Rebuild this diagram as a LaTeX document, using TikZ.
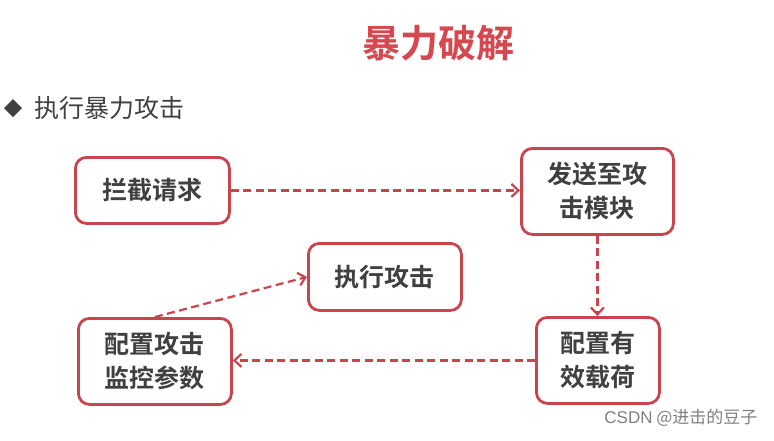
\documentclass[tikz,border=0pt]{standalone}
\usepackage{fontspec}
\newfontfamily\cjk{Noto Sans CJK SC}
\newfontfamily\cjkb{Noto Sans CJK SC Bold}
\newfontfamily\wmfont{Liberation Sans}
\usetikzlibrary{arrows.meta}
\definecolor{bred}{RGB}{201,69,78}
\definecolor{tred}{RGB}{214,72,80}
\definecolor{tgray}{RGB}{64,64,64}
\tikzset{
  box/.style={draw=bred, line width=2.8pt, rounded corners=11pt, fill=white,
    text=tgray, font=\cjkb\fontsize{25}{34}\selectfont, align=center,
    inner sep=0pt, anchor=north west},
  link/.style={draw=bred, line width=2.2pt, dash pattern=on 8pt off 4.5pt,
    -{Straight Barb[length=7pt,width=13pt,line width=2.2pt]}}
}
\begin{document}
\begin{tikzpicture}[x=1pt,y=-1pt]
\useasboundingbox (0,0) rectangle (774,440);
\fill[white] (0,0) rectangle (774,440);
\node[text=tred, font=\cjkb\fontsize{38}{44}\selectfont] (title) at (438,43) {暴力破解};
\fill[tgray] (13,99) -- (22,108) -- (13,117) -- (4,108) -- cycle;
\node[text=tgray, font=\cjk\fontsize{25}{30}\selectfont, anchor=west] (sub) at (31,108) {执行暴力攻击};

\node[box, minimum width=154pt, minimum height=66pt] (a) at (74,156) {拦截请求};
\node[box, minimum width=152pt, minimum height=86pt] (b) at (520,147) {发送至攻\\击模块};
\node[box, minimum width=153pt, minimum height=67pt] (c) at (307,242) {执行攻击};
\node[box, minimum width=153pt, minimum height=86pt] (d) at (77,317) {配置攻击\\监控参数};
\node[box, minimum width=123pt, minimum height=86pt] (e) at (535,316) {配置有\\效载荷};

\draw[link] (a.east) -- (b.west |- a.east);
\draw[link] (b.south) -- (e.north -| b.south);
\draw[link] (e.west) -- (d.east |- e.west);
\draw[link] (d.north) -- (c.west);

\node[text=gray, font=\cjk\fontsize{17}{20}\selectfont, anchor=east] (wm) at (761,418) {{\wmfont CSDN} @进击的豆子};
\end{tikzpicture}
\end{document}
